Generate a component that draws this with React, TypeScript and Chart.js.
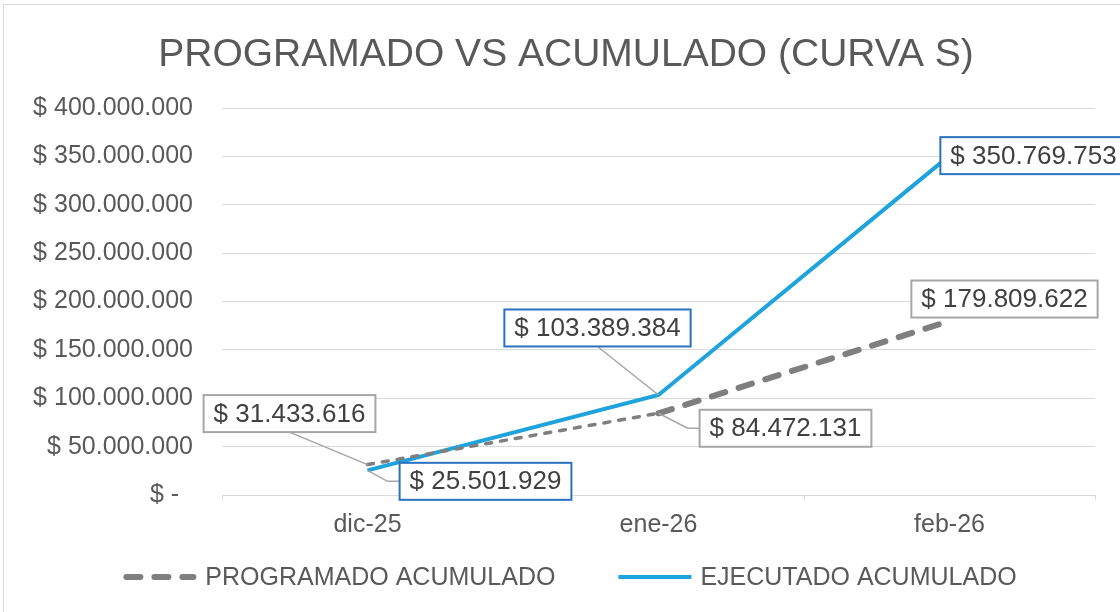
import { useEffect, useRef } from 'react';
import { Chart, registerables } from 'chart.js';

Chart.register(...registerables);

const CATEGORIES = ['dic-25', 'ene-26', 'feb-26'];
const PROGRAMADO = [31433616, 84472131, 179809622];
const EJECUTADO = [25501929, 103389384, 350769753];
const SERIES_NAMES = ['PROGRAMADO ACUMULADO', 'EJECUTADO ACUMULADO'];
const Y_MIN = 0;
const Y_MAX = 400000000;
const Y_STEP = 50000000;
const TITLE = 'PROGRAMADO VS ACUMULADO (CURVA S)';

const FONT = "'Liberation Sans', Arial, sans-serif";
const GRAY_LINE = '#7f7f7f';
const BLUE_LINE = '#1fa3dc';
const GRAY_BOX = '#a6a6a6';
const BLUE_BOX = '#2a72c0';

// label placement (offset of box centre from the point, in px) per dataset
const LABEL_PLACES = [
  [
    { dx: -78, dy: -51, leader: 'bottom' },
    { dx: 127, dy: 15, leader: 'left' },
    { dx: 55, dy: -22, leader: '' },
  ],
  [
    { dx: 118, dy: 11, leader: 'left' },
    { dx: -61, dy: -67, leader: 'bottom' },
    { dx: 84, dy: 0, leader: '' },
  ],
];

const fmt = (v: number) =>
  v === 0
    ? '$ -\u00a0\u00a0'
    : '$ ' + Math.round(v).toString().replace(/\B(?=(\d{3})+(?!\d))/g, '.');

const framePlugin = {
  id: 'frame',
  beforeDraw(chart: any) {
    const ctx = chart.ctx;
    ctx.save();
    ctx.fillStyle = '#ffffff';
    ctx.fillRect(0, 0, chart.width, chart.height);
    ctx.strokeStyle = '#d9d9d9';
    ctx.lineWidth = 1;
    ctx.strokeRect(3.5, 4.5, chart.width + 20, chart.height + 20);
    // title
    ctx.fillStyle = '#595959';
    ctx.font = `39px ${FONT}`;
    ctx.textAlign = 'center';
    ctx.textBaseline = 'middle';
    ctx.fillText(TITLE, 566, 55);
    ctx.restore();
  },
};

const boxLabelPlugin = {
  id: 'boxLabels',
  afterDatasetsDraw(chart: any) {
    const ctx = chart.ctx;
    chart.data.datasets.forEach((ds: any, di: number) => {
      const meta = chart.getDatasetMeta(di);
      const places = LABEL_PLACES[di];
      const boxColor = di === 0 ? GRAY_BOX : BLUE_BOX;
      meta.data.forEach((pt: any, i: number) => {
        const p = places[i];
        const text = fmt(ds.data[i]);
        ctx.save();
        ctx.font = `26px ${FONT}`;
        const tw = ctx.measureText(text).width;
        const w = tw + 20;
        const h = 37;
        const cx = pt.x + p.dx;
        const cy = pt.y + p.dy;
        const x0 = cx - w / 2;
        const y0 = cy - h / 2;
        ctx.strokeStyle = '#a6a6a6';
        ctx.lineWidth = 1.5;
        if (p.leader === 'bottom') {
          ctx.beginPath();
          ctx.moveTo(cx, y0 + h);
          ctx.lineTo(pt.x, pt.y);
          ctx.stroke();
        } else if (p.leader === 'left') {
          ctx.beginPath();
          ctx.moveTo(x0, cy);
          ctx.lineTo(x0 - 12, cy);
          ctx.lineTo(pt.x, pt.y);
          ctx.stroke();
        }
        ctx.fillStyle = '#ffffff';
        ctx.fillRect(x0, y0, w, h);
        ctx.strokeStyle = boxColor;
        ctx.lineWidth = 2;
        ctx.strokeRect(x0, y0, w, h);
        ctx.fillStyle = '#404040';
        ctx.textAlign = 'center';
        ctx.textBaseline = 'middle';
        ctx.fillText(text, cx, cy + 1);
        ctx.restore();
      });
    });
  },
};

const legendPlugin = {
  id: 'bottomLegend',
  afterDraw(chart: any) {
    const ctx = chart.ctx;
    const sample = 73;
    const gapText = 9;
    const gapItems = 63;
    const y = 577;
    ctx.save();
    ctx.font = `25px ${FONT}`;
    const widths = chart.data.datasets.map(
      (ds: any) => sample + gapText + ctx.measureText(ds.label).width
    );
    const total = widths.reduce((a: number, b: number) => a + b, 0) + gapItems * (widths.length - 1);
    let x = 570 - total / 2;
    chart.data.datasets.forEach((ds: any, di: number) => {
      ctx.beginPath();
      ctx.strokeStyle = ds.borderColor;
      if (di === 0) {
        ctx.lineWidth = 6;
        ctx.lineCap = 'round';
        ctx.setLineDash([14, 14]);
        ctx.moveTo(x + 3, y);
        ctx.lineTo(x + sample - 3, y);
      } else {
        ctx.lineWidth = 4;
        ctx.lineCap = 'butt';
        ctx.setLineDash([]);
        ctx.moveTo(x, y);
        ctx.lineTo(x + sample, y);
      }
      ctx.stroke();
      ctx.setLineDash([]);
      ctx.fillStyle = '#595959';
      ctx.textAlign = 'left';
      ctx.textBaseline = 'middle';
      ctx.fillText(ds.label, x + sample + gapText, y + 1);
      x += widths[di] + gapItems;
    });
    ctx.restore();
  },
};

export default function App() {
  const ref = useRef<HTMLCanvasElement | null>(null);

  useEffect(() => {
    if (!ref.current) return;
    const chart = new Chart(ref.current, {
      type: 'line',
      data: {
        labels: CATEGORIES,
        datasets: [
          {
            label: SERIES_NAMES[0],
            data: PROGRAMADO,
            borderColor: GRAY_LINE,
            backgroundColor: GRAY_LINE,
            borderWidth: 6,
            borderCapStyle: 'round',
            borderDash: [14, 14],
            pointRadius: 0,
            tension: 0,
            segment: {
              borderWidth: (c: any) => (c.p0DataIndex === 0 ? 3.5 : 6),
              borderDash: (c: any) => (c.p0DataIndex === 0 ? [6, 9] : [14, 14]),
            },
          } as any,
          {
            label: SERIES_NAMES[1],
            data: EJECUTADO,
            borderColor: BLUE_LINE,
            backgroundColor: BLUE_LINE,
            borderWidth: 4,
            pointRadius: 0,
            tension: 0,
          },
        ],
      },
      options: {
        animation: false,
        responsive: false,
        devicePixelRatio: 1,
        layout: { padding: { top: 108, left: 10, right: 25, bottom: 77 } },
        plugins: {
          legend: { display: false },
          tooltip: { enabled: false },
          title: { display: false },
        },
        scales: {
          x: {
            type: 'category',
            offset: true,
            grid: {
              display: true,
              drawOnChartArea: false,
              drawTicks: true,
              tickLength: 5,
              color: '#d9d9d9',
              offset: true,
            },
            border: { display: true, color: '#d9d9d9', width: 1 },
            ticks: {
              color: '#595959',
              font: { family: FONT, size: 25 },
              padding: 10,
              maxRotation: 0,
              autoSkip: false,
            },
            afterFit: (s: any) => {
              s.height = 40;
            },
          },
          y: {
            min: Y_MIN,
            max: Y_MAX,
            grid: { color: '#d9d9d9', lineWidth: 1, drawTicks: false },
            border: { display: false },
            ticks: {
              stepSize: Y_STEP,
              color: '#595959',
              font: { family: FONT, size: 25 },
              padding: 29,
              callback: (v: any) => fmt(Number(v)),
            },
            afterFit: (s: any) => {
              s.width = 212;
            },
          },
        },
      },
      plugins: [framePlugin, boxLabelPlugin, legendPlugin],
    } as any);
    return () => chart.destroy();
  }, []);

  return (
    <div
      style={{
        position: 'fixed',
        left: 0,
        top: 0,
        width: 1120,
        height: 612,
        overflow: 'hidden',
        background: '#fff',
      }}
    >
      <canvas ref={ref} width={1120} height={612} style={{ display: 'block' }} />
    </div>
  );
}
